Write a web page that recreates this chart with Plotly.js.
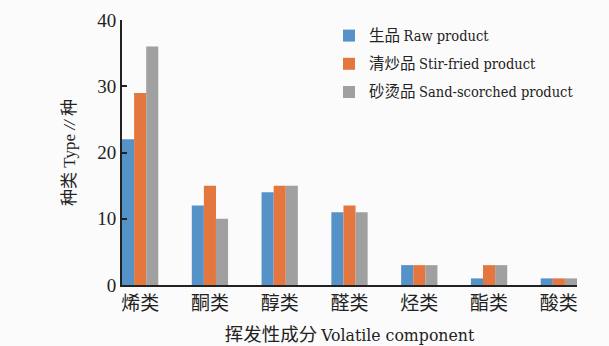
<!DOCTYPE html>
<html><head><meta charset="utf-8">
<script src="https://cdn.plot.ly/plotly-3.0.1.min.js"></script>
<style>html,body{margin:0;padding:0;background:#fbfbfb;}#chart{width:609px;height:346px;}</style>
</head><body><div id="chart"></div>
<script>
const categories = ['烯类','酮类','醇类','醛类','烃类','酯类','酸类'];
const seriesCN = ['生品','清炒品','砂烫品'];
const seriesEN = ['Raw product','Stir-fried product','Sand-scorched product'];
const raw = [22, 12, 14, 11, 3, 1, 1];
const stirFried = [29, 15, 15, 12, 3, 3, 1];
const sandScorched = [36, 10, 15, 11, 3, 3, 1];
const colors = ['#5592c8', '#e4773f', '#a0a0a0'];
const values = [raw, stirFried, sandScorched];

const serif = '"Liberation Serif", "Noto Sans CJK SC", serif';
const cond = '"DejaVu Serif Condensed", "Liberation Serif", serif';
const cjk = '"Noto Sans CJK SC", sans-serif';
const mixed = (cn, en, cs, es) =>
  `<span style="font-family:${cjk.replace(/"/g,"'")};font-size:${cs}px">${cn}</span> ` +
  `<span style="font-family:${cond.replace(/"/g,"'")};font-size:${es}px">${en}</span>`;

const traces = values.map((v, i) => ({
  type: 'bar', x: categories, y: v,
  name: mixed(seriesCN[i], seriesEN[i], 15.5, 14.5),
  legendgroup: 'g' + i,
  marker: {color: colors[i], line: {width: 0}}
}));

const layout = {
  width: 609, height: 346,
  paper_bgcolor: '#fbfbfb', plot_bgcolor: 'rgba(0,0,0,0)',
  margin: {l: 122, r: 32, t: 20, b: 61},
  barmode: 'group', bargap: 0.48, bargroupgap: 0,
  font: {family: serif, color: '#222'},
  xaxis: {
    type: 'category', range: [-0.26, 6.26],
    showline: true, linecolor: '#222', linewidth: 2,
    ticks: '', tickfont: {size: 19, family: serif, color: '#222'},
    title: {text: mixed('挥发性成分', 'Volatile component', 18.5, 17.5), font: {size: 16, family: serif, color: '#222'}, standoff: 17},
    showgrid: false, zeroline: false
  },
  yaxis: {
    range: [0, 40], tickvals: [0, 10, 20, 30, 40],
    showline: true, linecolor: '#222', linewidth: 2,
    ticks: 'inside', ticklen: 5, tickwidth: 2, tickcolor: '#222',
    tickfont: {size: 19, family: serif, color: '#222'},
    title: {text: '种类 Type <i>//</i> 种', font: {size: 17, family: serif, color: '#222'}, standoff: 17},
    showgrid: false, zeroline: false
  },
  legend: {
    x: 0.455, y: 1.0, xanchor: 'left', yanchor: 'top',
    bgcolor: 'rgba(0,0,0,0)', font: {size: 14, family: serif, color: '#222'},
    tracegroupgap: 7, itemwidth: 30
  },
  showlegend: true
};
Plotly.newPlot('chart', traces, layout, {displayModeBar: false});
</script></body></html>
